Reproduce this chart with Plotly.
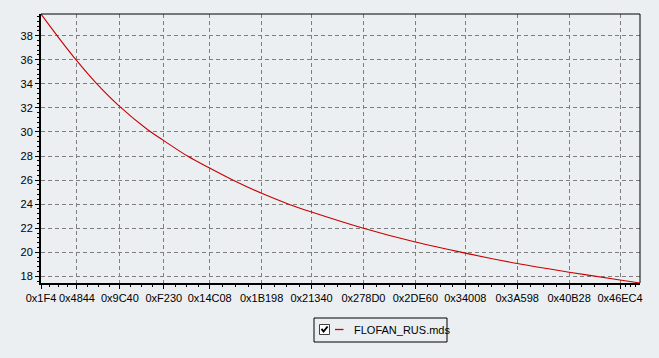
import plotly.graph_objects as go

# ---- data ----
x_values = [500, 9500, 18500, 27900, 40000, 53800, 62000, 73850, 85000, 97300,
            111000, 124900, 136000, 162000, 188000, 213000, 239000, 265000, 290500, 300500]
y_values = [39.8, 37.8, 35.9, 34.1, 32.1, 30.2, 29.28, 28.0, 27.0, 25.95,
            24.9, 23.98, 23.35, 22.0, 20.85, 19.93, 19.07, 18.35, 17.7, 17.45]

x_tick_values = [500, 18500, 40000, 62000, 85000, 111000, 136000, 162000,
                 188000, 213000, 239000, 265000, 290500]
x_tick_labels = ["0x1F4", "0x4844", "0x9C40", "0xF230", "0x14C08", "0x1B198",
                 "0x21340", "0x278D0", "0x2DE60", "0x34008", "0x3A598",
                 "0x40B28", "0x46EC4"]
y_tick_values = [18, 20, 22, 24, 26, 28, 30, 32, 34, 36, 38]
series_name = "FLOFAN_RUS.mds"

# ---- styling ----
BG = "#EBEFF2"
RED = "#C80000"
FONT = "Liberation Sans, Arial, sans-serif"
W, H = 659, 358
L, R, T, B = 41, 640, 14, 283

def px2x(px):
    return (px - L) / (R - L)

def py2y(py):
    return (B - py) / (B - T)

# minor ticks: quarters between major ticks
minor_x = []
edges = x_tick_values + [300500]
for a, b in zip(edges[:-1], edges[1:]):
    for k in (1, 2, 3):
        minor_x.append(a + (b - a) * k / 4)

fig = go.Figure()
fig.add_trace(go.Scatter(
    x=x_values, y=y_values, mode="lines", name=series_name,
    line=dict(color=RED, width=1.1, shape="spline", smoothing=1.0),
    showlegend=False,
))

fig.update_layout(
    width=W, height=H,
    margin=dict(l=L, r=W - R, t=T, b=H - B, pad=0),
    paper_bgcolor=BG, plot_bgcolor=BG,
    font=dict(family=FONT, size=11, color="black"),
    xaxis=dict(
        range=[500, 300500], tickmode="array", tickvals=x_tick_values,
        ticktext=x_tick_labels, showline=True, linecolor="black", linewidth=2,
        ticks="outside", ticklen=4, tickcolor="black", tickwidth=1,
        showgrid=True, gridcolor="#7F7F7F", griddash="4px,3px", gridwidth=1,
        zeroline=False, tickfont=dict(size=11, color="black"),
        minor=dict(tickmode="array", tickvals=minor_x, ticks="outside",
                   ticklen=2, tickcolor="black", showgrid=False),
    ),
    yaxis=dict(
        range=[17.45, 39.8], tickmode="array", tickvals=y_tick_values,
        showline=True, linecolor="black", linewidth=2,
        ticks="outside", ticklen=4, tickcolor="black", tickwidth=1,
        showgrid=True, gridcolor="#7F7F7F", griddash="4px,3px", gridwidth=1,
        zeroline=False, tickfont=dict(size=11, color="black"),
        minor=dict(dtick=0.4, ticks="outside", ticklen=2, tickcolor="black",
                   showgrid=False),
    ),
)

shapes = [
    # top and right thin borders
    dict(type="line", xref="paper", yref="paper", x0=0, x1=1, y0=1, y1=1,
         line=dict(color="black", width=1), layer="above"),
    dict(type="line", xref="paper", yref="paper", x0=1, x1=1, y0=0, y1=1,
         line=dict(color="black", width=1), layer="above"),
    # legend box
    dict(type="rect", xref="paper", yref="paper",
         x0=px2x(314), x1=px2x(447), y0=py2y(318), y1=py2y(342),
         line=dict(color="black", width=1), fillcolor=BG),
    # checkbox
    dict(type="rect", xref="paper", yref="paper",
         x0=px2x(319.5), x1=px2x(329.5), y0=py2y(324.5), y1=py2y(334.5),
         line=dict(color="#404040", width=1), fillcolor="white"),
    dict(type="path", xref="paper", yref="paper",
         path=(f"M {px2x(321.5)} {py2y(328.8)} L {px2x(323.6)} {py2y(331.5)} "
               f"L {px2x(327.6)} {py2y(326.5)}"),
         line=dict(color="black", width=2)),
    # legend line sample
    dict(type="line", xref="paper", yref="paper",
         x0=px2x(335), x1=px2x(343.5), y0=py2y(329.5), y1=py2y(329.5),
         line=dict(color=RED, width=1.3)),
]
fig.update_layout(shapes=shapes)

fig.add_annotation(
    x=px2x(351.5), y=py2y(329.5), xref="paper", yref="paper",
    text=series_name, showarrow=False, xanchor="left", yanchor="middle",
    font=dict(family=FONT, size=11, color="black"),
)

fig.write_html("out.html")
